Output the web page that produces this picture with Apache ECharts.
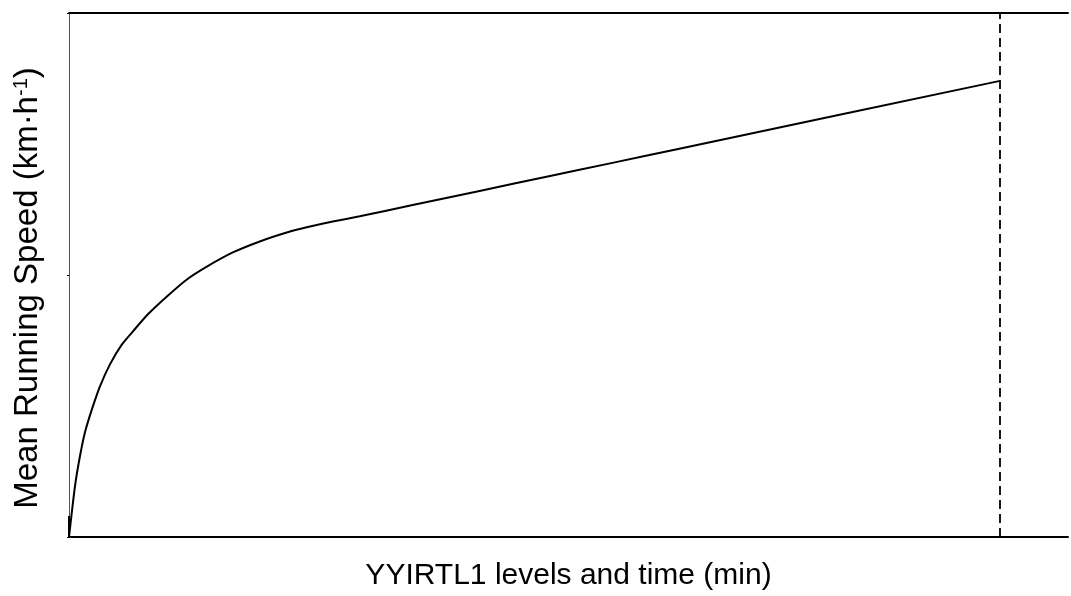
<!DOCTYPE html>
<html>
<head>
<meta charset="utf-8">
<script src="https://cdn.jsdelivr.net/npm/echarts@6/dist/echarts.min.js"></script>
<style>
html,body{margin:0;padding:0;background:#fff;}
#chart{width:1071px;height:596px;}
</style>
</head>
<body>
<div id="chart"></div>
<script>
// Time / level axis positions (arbitrary units)
const xValues = [0, 0, 6, 11, 16, 23, 31, 41, 53, 64, 79, 98, 118, 138, 164, 191, 218, 238, 264, 291, 344, 411, 478, 544, 611, 932];
// Mean running speed (arbitrary units)
const speedValues = [0.8, 0, 1.94, 3.09, 4.0, 4.88, 5.75, 6.59, 7.35, 7.85, 8.5, 9.18, 9.83, 10.32, 10.86, 11.28, 11.62, 11.82, 12.04, 12.24, 12.67, 13.21, 13.75, 14.28, 14.82, 17.41];
// End-of-test marker
const endMarkerX = [932];
const xLabel = 'YYIRTL1 levels and time (min)';
const yLabel = 'Mean Running Speed (km·h{sup|-1})';

const lineData = xValues.map((x, i) => [x, speedValues[i]]);

const chart = echarts.init(document.getElementById('chart'));
chart.setOption({
  animation: false,
  backgroundColor: '#fff',
  grid: { left: 69, right: 3, top: 13, bottom: 58, containLabel: false },
  xAxis: [{
    type: 'value', min: 0, max: 1000, position: 'bottom',
    name: xLabel, nameLocation: 'middle', nameGap: 24,
    nameTextStyle: { fontFamily: 'Liberation Sans', fontSize: 30, color: '#000', verticalAlign: 'top' },
    axisLine: { show: true, onZero: false, lineStyle: { color: '#000', width: 2 } },
    axisTick: { show: false }, axisLabel: { show: false }, splitLine: { show: false }
  }, {
    type: 'value', min: 0, max: 1000, position: 'top',
    axisLine: { show: true, onZero: false, lineStyle: { color: '#000', width: 2 } },
    axisTick: { show: false }, axisLabel: { show: false }, splitLine: { show: false }
  }],
  yAxis: {
    type: 'value', min: 0, max: 20, interval: 10,
    name: yLabel, nameLocation: 'middle', nameGap: 25, nameRotate: 90,
    nameTextStyle: {
      fontFamily: 'Liberation Sans', fontSize: 33, color: '#000', padding: [0, 26, 0, 0],
      rich: { sup: { fontFamily: 'Liberation Sans', fontSize: 20, color: '#000', verticalAlign: 'top', padding: [0, 0, 13, 0] } }
    },
    axisLine: { show: true, onZero: false, lineStyle: { color: '#555', width: 1 } },
    axisTick: { show: true, length: 2, lineStyle: { color: '#000' } },
    axisLabel: { show: false }, splitLine: { show: false }
  },
  series: [{
    type: 'line', data: lineData, xAxisIndex: 0, showSymbol: false, symbol: 'none',
    lineStyle: { color: '#000', width: 2 }, smooth: 0.2,
    markLine: {
      silent: true, symbol: ['none', 'none'], label: { show: false },
      lineStyle: { color: '#000', width: 1.8, type: [9, 5] },
      data: endMarkerX.map(v => ({ xAxis: v }))
    }
  }]
});
</script>
</body>
</html>
